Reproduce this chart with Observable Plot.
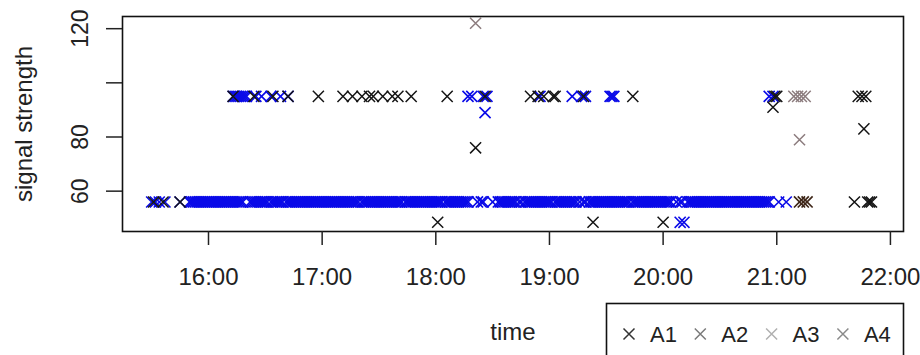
<!DOCTYPE html>
<html><head><meta charset="utf-8">
<script src="https://cdn.jsdelivr.net/npm/d3@7"></script>
<script src="https://cdn.jsdelivr.net/npm/@observablehq/plot@0.6"></script>
<style>
html,body{margin:0;padding:0;background:#fff;}
#wrap{position:relative;width:920px;height:355px;overflow:hidden;font-family:"Liberation Sans",Arial,sans-serif;background:#fff;}
#legend{position:absolute;left:605px;top:302px;}
</style></head><body><div id="wrap"></div>
<script>
// ---------------- data ----------------
const seriesNames = ["A1", "A2", "A3", "A4"];
const xTickTimes = ["16:00", "17:00", "18:00", "19:00", "20:00", "21:00", "22:00"];
const xDomainTimes = ["15:14:36", "22:06:54"];
const yTicks = [60, 80, 100, 120];
const yTickLabels = ["60", "80", "", "120"];
const yDomain = [45.1, 124.5];

// A2: dense run of readings at signal 56
const a2BandLevel = 56;
const a2BandTimes = [
  "15:50","15:51","15:52","15:53","15:54","15:55","15:56","15:57","15:58","15:59",
  "16:00","16:01","16:02","16:03","16:04","16:05","16:06","16:07","16:08","16:09","16:10","16:11","16:12","16:13","16:14","16:15","16:16","16:17","16:18",
  "16:22","16:23","16:24","16:25","16:26","16:27","16:28","16:29","16:30","16:31",
  "16:33","16:34","16:35","16:36","16:37","16:38","16:39",
  "16:41","16:42","16:43","16:44","16:45","16:46","16:47","16:48","16:49","16:50","16:51","16:52","16:53","16:54","16:55","16:56","16:57","16:58","16:59",
  "17:00","17:01","17:02","17:03","17:04","17:05","17:06","17:07","17:08","17:09","17:10","17:11","17:12","17:13","17:14","17:15","17:16","17:17","17:18","17:19",
  "17:21","17:22","17:23","17:24","17:25","17:26","17:27","17:28","17:29","17:30","17:31","17:32","17:33","17:34","17:35","17:36","17:37","17:38","17:39","17:40","17:41","17:42",
  "17:44","17:45","17:46","17:47","17:48","17:49","17:50","17:51","17:52","17:53","17:54","17:55","17:56","17:57","17:58","17:59",
  "18:00","18:01","18:02","18:03",
  "18:05","18:06","18:07","18:08","18:09","18:10","18:11","18:12","18:13","18:14","18:15","18:16","18:17",
  "18:22","18:24","18:25","18:30",
  "18:33","18:34","18:35","18:36","18:37","18:38","18:39","18:40","18:41","18:42",
  "18:44","18:45","18:47","18:48","18:49","18:50","18:51","18:52","18:53","18:54","18:55","18:56","18:57","18:58","18:59",
  "19:00","19:01","19:03","19:04","19:05","19:06","19:07","19:08","19:09","19:10","19:11","19:12","19:13","19:14","19:16","19:18","19:19",
  "19:21","19:22","19:23","19:24","19:25","19:26","19:27","19:28","19:29","19:30","19:31","19:32","19:33","19:34","19:35","19:36","19:37","19:38","19:39","19:40","19:41","19:42",
  "19:44","19:45","19:46","19:47","19:48","19:49","19:50","19:51","19:52","19:53","19:54","19:55","19:56","19:57","19:58","19:59",
  "20:00","20:01","20:02","20:03","20:04","20:07","20:09","20:10",
  "20:13","20:14","20:15","20:16","20:17","20:18","20:19","20:20","20:21","20:22","20:23","20:24","20:25","20:26","20:27","20:28","20:29","20:30",
  "20:31","20:32","20:33","20:34","20:35","20:36","20:37","20:38","20:39","20:40","20:41","20:42","20:43","20:44","20:45","20:46","20:47","20:48","20:49","20:50",
  "20:51","20:52","20:53","20:54","20:55","20:56"
];
// A2: other readings
const a2Times = [
  "15:30","15:32","15:34","15:37","15:45","21:01","21:05",
  "16:13","16:14","16:15","16:16","16:17","16:18","16:19","16:20","16:25","16:28","16:33","16:38","16:42",
  "18:17","18:19","18:25","18:27","18:55","19:12","19:17","19:19","19:32","19:33","19:34","20:56","20:58",
  "18:26","20:09","20:11"
];
const a2Signal = [
  56,56,56,56,56,56,56,
  95,95,95,95,95,95,95,95,95,95,95,95,95,
  95,95,95,95,95,95,95,95,95,95,95,95,95,
  89,48.5,48.5
];
// A1
const a1Times = [
  "15:31","15:36","15:45","21:41","21:48","21:49","21:50",
  "16:13","16:24","16:34","16:42","16:58","17:11","17:16","17:21","17:25","17:27","17:32","17:37","17:40","17:47",
  "18:06","18:26","18:50","18:54","18:57","19:02","19:03","19:18","19:44","20:59","21:00","21:43","21:45","21:47",
  "18:21","20:58","21:46",
  "18:01","19:23","20:00"
];
const a1Signal = [
  56,56,56,56,56,56,56,
  95,95,95,95,95,95,95,95,95,95,95,95,95,95,
  95,95,95,95,95,95,95,95,95,95,95,95,95,95,
  76,91,83,
  48.5,48.5,48.5
];
// A3
const a3Times = ["18:21","21:09","21:11","21:13","21:15","21:12"];
const a3Signal = [122, 95, 95, 95, 95, 79];
// A4
const a4Times = ["21:12","21:14","21:16"];
const a4Signal = [56, 56, 56];

// ---------------- styles ----------------
const seriesColors = ["#141414", "#0a0ae8", "#8c7c7e", "#3e2618"];
const legendColors = ["#333333", "#7a7a7a", "#b0b0b0", "#8a8a8a"];
const FONT = "'Liberation Sans', Arial, Helvetica, sans-serif";

// ---------------- helpers ----------------
const T = s => new Date(Date.UTC(2000, 0, 1, +s.slice(0, 2), +s.slice(3, 5), +(s.slice(6, 8) || 0)));
const rows = (times, values) => times.map((t, i) => ({t: T(t), v: values[i]}));
const bandRows = a2BandTimes.map(t => ({t: T(t), v: a2BandLevel}));

const dotOpts = (c, w) => ({x: "t", y: "v", symbol: "times", r: 5.1, stroke: c, strokeWidth: w});

const chart = Plot.plot({
  width: 920,
  height: 355,
  marginLeft: 122,
  marginRight: 17,
  marginTop: 16,
  marginBottom: 124,
  style: {fontFamily: FONT, background: "white", color: "#222", overflow: "visible"},
  x: {type: "utc", domain: xDomainTimes.map(T)},
  y: {domain: yDomain},
  marks: [
    Plot.dot(bandRows, dotOpts(seriesColors[1], 1.7)),
    Plot.dot(rows(a2Times, a2Signal), dotOpts(seriesColors[1], 1.6)),
    Plot.dot(rows(a1Times, a1Signal), dotOpts(seriesColors[0], 1.5)),
    Plot.dot(rows(a3Times, a3Signal), dotOpts(seriesColors[2], 1.5)),
    Plot.dot(rows(a4Times, a4Signal), dotOpts(seriesColors[3], 1.7)),
    Plot.frame({stroke: "#111", strokeWidth: 1.6}),
    Plot.axisX({
      ticks: xTickTimes.map(T),
      tickFormat: d3.utcFormat("%H:%M"),
      tickSize: 14,
      tickPadding: 22,
      fontSize: 24,
      stroke: "#222",
      strokeWidth: 1.5,
      fill: "#222",
      label: null
    }),
    Plot.axisY({
      ticks: yTicks,
      tickSize: 16,
      tickFormat: () => "",
      stroke: "#222",
      strokeWidth: 1.5,
      label: null
    }),
    Plot.text(yTicks, {
      y: d => d,
      text: (d, i) => yTickLabels[i],
      frameAnchor: "left",
      textAnchor: "middle",
      dx: -42,
      rotate: -90,
      fontSize: 23,
      fill: "#222"
    }),
    Plot.text(["signal strength"], {
      text: d => d,
      frameAnchor: "left",
      textAnchor: "middle",
      dx: -98,
      rotate: -90,
      fontSize: 24,
      fill: "#222"
    }),
    Plot.text(["time"], {
      text: d => d,
      frameAnchor: "bottom",
      textAnchor: "middle",
      dy: 108,
      fontSize: 24,
      fill: "#222"
    })
  ]
});
document.getElementById("wrap").appendChild(chart);

// ---------------- legend ----------------
const lg = d3.select("#wrap").append("svg")
  .attr("id", "legend")
  .attr("width", 302)
  .attr("height", 60);
lg.append("rect")
  .attr("x", 1.5).attr("y", 1.5)
  .attr("width", 297).attr("height", 80)
  .attr("fill", "white")
  .attr("stroke", "#111").attr("stroke-width", 1.6);
const items = lg.selectAll("g.item").data(seriesNames).join("g")
  .attr("class", "item")
  .attr("transform", (d, i) => `translate(${24 + i * 71.3},32)`);
items.append("path")
  .attr("d", "M-5.5,-5.5L5.5,5.5M-5.5,5.5L5.5,-5.5")
  .attr("fill", "none")
  .attr("stroke", (d, i) => legendColors[i])
  .attr("stroke-width", 1.5);
items.append("text")
  .attr("x", 21)
  .attr("dy", "0.35em")
  .attr("font-family", FONT)
  .attr("font-size", 22)
  .attr("fill", "#222")
  .text(d => d);
</script></body></html>
